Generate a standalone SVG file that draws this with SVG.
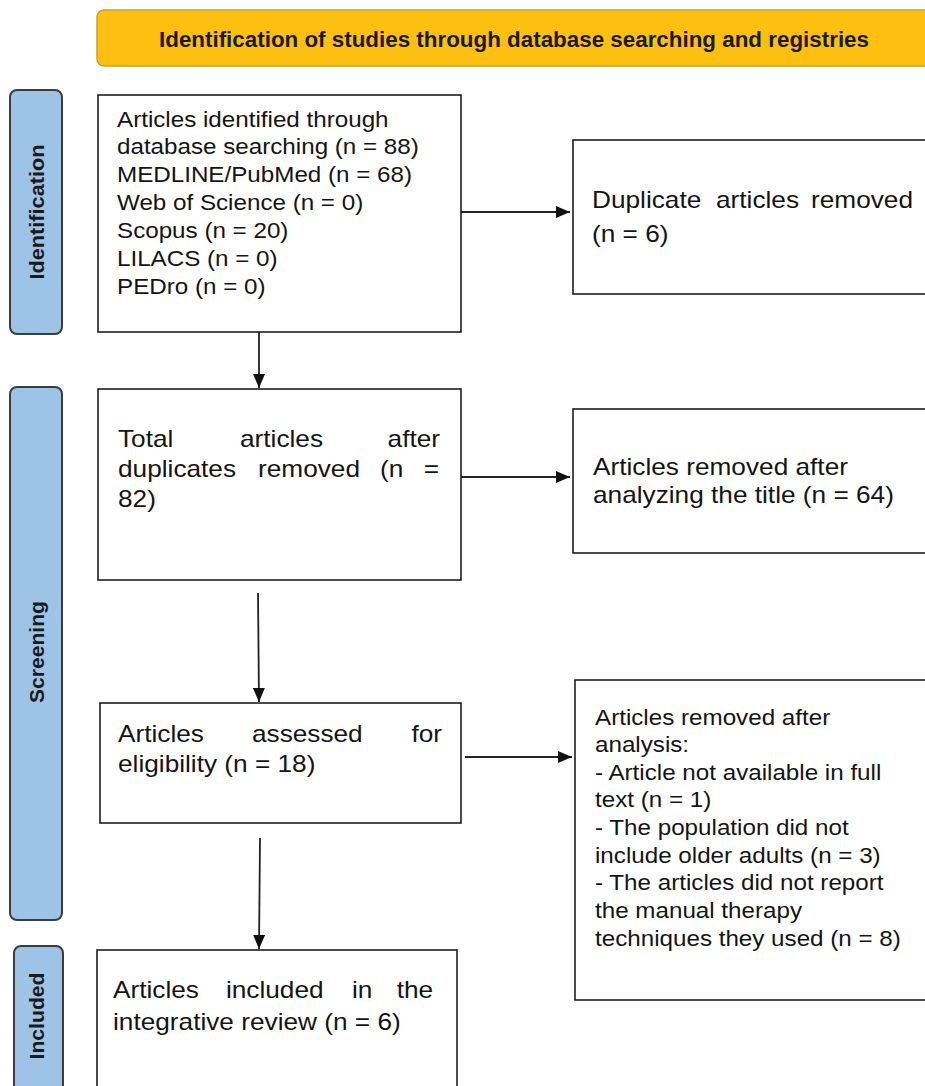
<svg xmlns="http://www.w3.org/2000/svg" width="925" height="1086" viewBox="0 0 925 1086">
<style>
.bg{fill:#ffffff}
.box{fill:#ffffff;stroke:#1e1e1e;stroke-width:1.6}
.lab{fill:#9dc3e6;stroke:#3c3c3c;stroke-width:2}
.labt{font-family:"Liberation Sans",Arial,sans-serif;font-weight:bold;font-size:20px;fill:#1a1a1a;text-anchor:middle}
.t{font-family:"Liberation Sans",Arial,sans-serif;font-size:22px;fill:#141414}
.t2{font-family:"Liberation Sans",Arial,sans-serif;font-size:23px;fill:#141414}
.hdr{fill:#fec010;stroke:#c9a02a;stroke-width:1.5}
.hdrt{font-family:"Liberation Sans",Arial,sans-serif;font-weight:bold;font-size:22.4px;fill:#1a1a1a;text-anchor:middle}
.ln{stroke:#222;stroke-width:1.8;fill:none}
</style>
<defs>
<marker id="ah" viewBox="0 0 14 12" refX="14" refY="6" markerWidth="14" markerHeight="12" markerUnits="userSpaceOnUse" orient="auto">
<path d="M0,0 L14,6 L0,12 z" fill="#111"/>
</marker>
</defs>
<rect class="bg" x="0" y="0" width="925" height="1086"/>

<g id="header">
<rect class="hdr" x="97" y="10" width="840" height="56" rx="7"/>
<text class="hdrt" x="514" y="47" textLength="710" lengthAdjust="spacingAndGlyphs">Identification of studies through database searching and registries</text>
</g>

<g id="label-identification">
<rect class="lab" x="10" y="90" width="52" height="244" rx="7"/>
<text class="labt" transform="translate(44,212) rotate(-90)" textLength="135" lengthAdjust="spacingAndGlyphs">Identification</text>
</g>
<g id="label-screening">
<rect class="lab" x="10" y="387" width="52" height="533" rx="7"/>
<text class="labt" transform="translate(44,652) rotate(-90)" textLength="102" lengthAdjust="spacingAndGlyphs">Screening</text>
</g>
<g id="label-included">
<rect class="lab" x="14" y="946" width="49" height="160" rx="7"/>
<text class="labt" transform="translate(44,1016) rotate(-90)" textLength="87" lengthAdjust="spacingAndGlyphs">Included</text>
</g>

<g id="connectors">
<line class="ln" x1="259" y1="332" x2="259" y2="388" marker-end="url(#ah)"/>
<line class="ln" x1="258" y1="593" x2="259" y2="702" marker-end="url(#ah)"/>
<line class="ln" x1="260" y1="838" x2="259" y2="949" marker-end="url(#ah)"/>
<line class="ln" x1="461" y1="212" x2="570" y2="212" marker-end="url(#ah)"/>
<line class="ln" x1="461" y1="477" x2="570" y2="477" marker-end="url(#ah)"/>
<line class="ln" x1="465" y1="757" x2="572" y2="757" marker-end="url(#ah)"/>
</g>

<g id="box-identified">
<rect class="box" x="98" y="95" width="363" height="237"/>
<text class="t" transform="matrix(1.1 0 0 1 117 0)">
<tspan x="0" y="127">Articles identified through</tspan>
<tspan x="0" y="154">database searching (n = 88)</tspan>
<tspan x="0" y="182">MEDLINE/PubMed (n = 68)</tspan>
<tspan x="0" y="210">Web of Science (n = 0)</tspan>
<tspan x="0" y="238">Scopus (n = 20)</tspan>
<tspan x="0" y="266">LILACS (n = 0)</tspan>
<tspan x="0" y="294">PEDro (n = 0)</tspan>
</text>
</g>

<g id="box-duplicates">
<rect class="box" x="573" y="140" width="360" height="154"/>
<text class="t2" transform="matrix(1.14 0 0 1 592 0)">
<tspan x="0" y="208">Duplicate</tspan><tspan x="108.8" y="208">articles</tspan><tspan x="192.1" y="208">removed</tspan>
<tspan x="0" y="242">(n = 6)</tspan>
</text>
</g>

<g id="box-total">
<rect class="box" x="98" y="389" width="363" height="191"/>
<text class="t2" transform="matrix(1.14 0 0 1 118 0)">
<tspan x="0" y="447">Total</tspan><tspan x="107" y="447">articles</tspan><tspan x="236.5" y="447">after</tspan>
<tspan x="0" y="477">duplicates</tspan><tspan x="122.8" y="477">removed</tspan><tspan x="229.8" y="477">(n</tspan><tspan x="268.2" y="477">=</tspan>
<tspan x="0" y="507">82)</tspan>
</text>
</g>

<g id="box-title-removed">
<rect class="box" x="573" y="409" width="360" height="144"/>
<text class="t2" transform="matrix(1.14 0 0 1 593 0)">
<tspan x="0" y="475">Articles removed after</tspan>
<tspan x="0" y="503">analyzing the title (n = 64)</tspan>
</text>
</g>

<g id="box-eligibility">
<rect class="box" x="100" y="703" width="361" height="120"/>
<text class="t2" transform="matrix(1.14 0 0 1 118 0)">
<tspan x="0" y="742">Articles</tspan><tspan x="117.5" y="742">assessed</tspan><tspan x="257.4" y="742">for</tspan>
<tspan x="0" y="772">eligibility (n = 18)</tspan>
</text>
</g>

<g id="box-analysis-removed">
<rect class="box" x="575" y="680" width="360" height="320"/>
<text class="t" transform="matrix(1.1 0 0 1 595 0)">
<tspan x="0" y="725">Articles removed after</tspan>
<tspan x="0" y="752">analysis:</tspan>
<tspan x="0" y="780">- Article not available in full</tspan>
<tspan x="0" y="807">text (n = 1)</tspan>
<tspan x="0" y="835">- The population did not</tspan>
<tspan x="0" y="863">include older adults (n = 3)</tspan>
<tspan x="0" y="890">- The articles did not report</tspan>
<tspan x="0" y="918">the manual therapy</tspan>
<tspan x="0" y="946">techniques they used (n = 8)</tspan>
</text>
</g>

<g id="box-included">
<rect class="box" x="97" y="950" width="360" height="160"/>
<text class="t2" transform="matrix(1.14 0 0 1 113 0)">
<tspan x="0" y="998">Articles</tspan><tspan x="99.1" y="998">included</tspan><tspan x="209.6" y="998">in</tspan><tspan x="248.8" y="998">the</tspan>
<tspan x="0" y="1030">integrative review (n = 6)</tspan>
</text>
</g>
</svg>
